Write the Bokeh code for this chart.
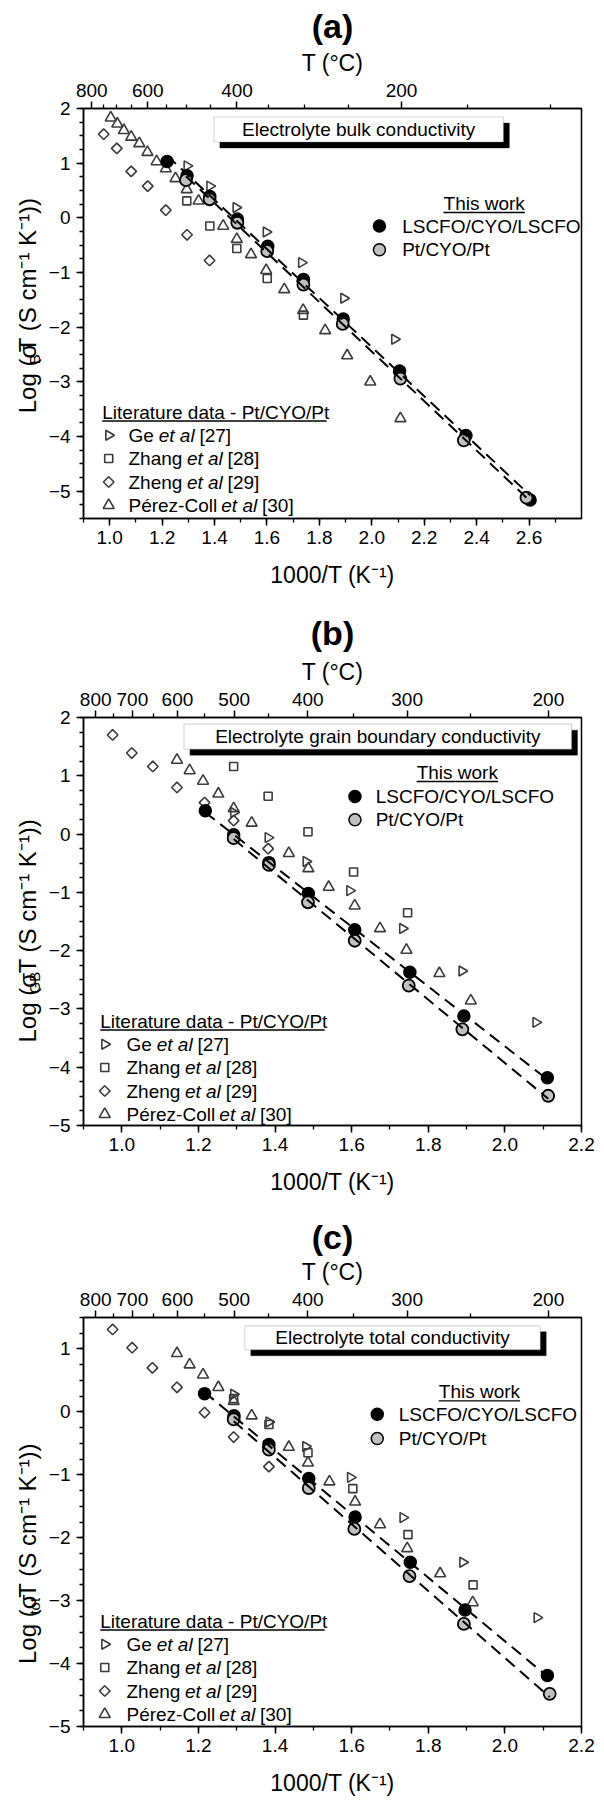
import math
import numpy as np
from bokeh.plotting import figure
from bokeh.models import (LinearAxis, FixedTicker, SingleIntervalTicker, CustomJSTickFormatter,
                          NumeralTickFormatter, Label, BoxAnnotation, Range1d)
from bokeh.layouts import column, row
from bokeh.embed import file_html
from bokeh.resources import INLINE

FONT = "Liberation Sans"

# ---------------- data ----------------
# (a) bulk conductivity
a_lscfo_x = [1.219, 1.295, 1.382, 1.487, 1.603, 1.739, 1.891, 2.106, 2.359, 2.604]
a_lscfo_y = [1.03, 0.77, 0.39, -0.02, -0.52, -1.13, -1.85, -2.80, -3.98, -5.16]
a_pt_x = [1.291, 1.381, 1.487, 1.601, 1.739, 1.889, 2.109, 2.351, 2.590]
a_pt_y = [0.69, 0.34, -0.09, -0.61, -1.22, -1.94, -2.94, -4.07, -5.12]
a_ge_x = [1.295, 1.382, 1.482, 1.597, 1.732, 1.893, 2.087]
a_ge_y = [0.95, 0.58, 0.19, -0.26, -0.82, -1.47, -2.22]
a_zhang_x = [1.294, 1.382, 1.485, 1.601, 1.739]
a_zhang_y = [0.31, -0.15, -0.56, -1.11, -1.78]
a_zheng_x = [0.977, 1.027, 1.082, 1.145, 1.214, 1.295, 1.381]
a_zheng_y = [1.53, 1.27, 0.85, 0.58, 0.14, -0.31, -0.78]
a_perez_x = [1.004, 1.029, 1.054, 1.082, 1.113, 1.144, 1.179, 1.214, 1.251, 1.294, 1.339,
             1.433, 1.485, 1.539, 1.597, 1.666, 1.738, 1.822, 1.906, 1.994, 2.109]
a_perez_y = [1.83, 1.72, 1.60, 1.48, 1.36, 1.20, 1.03, 0.90, 0.72, 0.52, 0.31,
             -0.15, -0.39, -0.67, -0.96, -1.31, -1.69, -2.06, -2.52, -3.00, -3.67]

# (b) grain boundary conductivity
b_lscfo_x = [1.218, 1.292, 1.384, 1.487, 1.608, 1.752, 1.893, 2.111]
b_lscfo_y = [0.40, -0.01, -0.49, -1.02, -1.64, -2.37, -3.12, -4.18]
b_pt_x = [1.292, 1.384, 1.486, 1.608, 1.749, 1.889, 2.113]
b_pt_y = [-0.07, -0.53, -1.17, -1.83, -2.60, -3.35, -4.49]
b_ge_x = [1.292, 1.382, 1.481, 1.595, 1.733, 1.888, 2.081]
b_ge_y = [0.37, -0.06, -0.47, -0.97, -1.62, -2.35, -3.23]
b_zhang_x = [1.292, 1.382, 1.486, 1.605, 1.746]
b_zhang_y = [1.16, 0.65, 0.04, -0.65, -1.35]
b_zheng_x = [0.976, 1.026, 1.081, 1.144, 1.216, 1.292, 1.382]
b_zheng_y = [1.70, 1.39, 1.16, 0.80, 0.54, 0.23, -0.25]
b_perez_x = [1.144, 1.177, 1.212, 1.252, 1.292, 1.339, 1.436, 1.487, 1.540, 1.608, 1.674,
             1.743, 1.829, 1.911]
b_perez_y = [1.27, 1.09, 0.91, 0.69, 0.44, 0.19, -0.33, -0.59, -0.91, -1.23, -1.62,
             -1.99, -2.39, -2.86]

# (c) total conductivity
c_lscfo_x = [1.216, 1.293, 1.384, 1.488, 1.609, 1.753, 1.896, 2.111]
c_lscfo_y = [0.29, -0.06, -0.52, -1.06, -1.67, -2.39, -3.15, -4.19]
c_pt_x = [1.292, 1.384, 1.488, 1.607, 1.751, 1.893, 2.117]
c_pt_y = [-0.12, -0.60, -1.21, -1.86, -2.61, -3.37, -4.48]
c_ge_x = [1.292, 1.384, 1.480, 1.597, 1.734, 1.890, 2.084]
c_ge_y = [0.28, -0.16, -0.55, -1.04, -1.68, -2.39, -3.27]
c_zhang_x = [1.292, 1.384, 1.486, 1.603, 1.747, 1.917]
c_zhang_y = [0.21, -0.20, -0.65, -1.22, -1.95, -2.75]
c_zheng_x = [0.976, 1.027, 1.080, 1.144, 1.216, 1.292, 1.384]
c_zheng_y = [1.31, 1.02, 0.70, 0.39, -0.01, -0.40, -0.87]
c_perez_x = [1.144, 1.177, 1.212, 1.252, 1.292, 1.339, 1.436, 1.486, 1.542, 1.609, 1.674,
             1.745, 1.831, 1.916]
c_perez_y = [0.93, 0.75, 0.59, 0.39, 0.17, -0.06, -0.56, -0.81, -1.11, -1.43, -1.79,
             -2.17, -2.57, -3.03]

# texts and ticks
panel_titles = ["(a)", "(b)", "(c)"]
box_texts = ["Electrolyte bulk conductivity",
             "Electrolyte grain boundary conductivity",
             "Electrolyte total conductivity"]
sigma_subs = ["B", "GB", "tot"]
y_label_head = "Log (σ"
y_label_tail = "T (S cm\u207b\u00b9 K\u207b\u00b9))"
this_work_title = "This work"
this_work_names = ["LSCFO/CYO/LSCFO", "Pt/CYO/Pt"]
lit_title = "Literature data - Pt/CYO/Pt"
lit_authors = ["Ge", "Zhang", "Zheng", "Pérez-Coll"]
lit_refs = ["[27]", "[28]", "[29]", "[30]"]
x_label = "1000/T (K\u207b\u00b9)"
top_label = "T (°C)"
top_major_a = [800, 600, 400, 200]
top_minor_a = [750, 700, 650, 550, 500, 450, 350, 300, 250, 150, 100]
top_major_bc = [800, 700, 600, 500, 400, 300, 200]
top_minor_bc = [750, 650, 550, 450, 350, 250]

# ---------------- helpers ----------------
AW = {' ': 278, '(': 333, ')': 333, '[': 278, ']': 278, '/': 278, '-': 333, '.': 278, '°': 400,
      'A': 667, 'B': 667, 'C': 722, 'D': 722, 'E': 667, 'F': 611, 'G': 778, 'H': 722, 'I': 278,
      'K': 667, 'L': 556, 'M': 833, 'O': 778, 'P': 667, 'S': 667, 'T': 611, 'Y': 667, 'Z': 611,
      'a': 556, 'b': 556, 'c': 500, 'd': 556, 'e': 556, 'g': 556, 'h': 556, 'i': 222, 'k': 500,
      'l': 222, 'm': 833, 'n': 556, 'o': 556, 'r': 333, 't': 278, 'u': 556, 'v': 500, 'w': 722,
      'y': 500, 'z': 500, 'é': 556, 'σ': 620}


def tw(s, size):
    return sum(AW.get(ch, 556) for ch in s) / 1000.0 * size


LW = 45            # width of the strip holding the y-axis title
FW = 504           # frame width
BL = 32            # left border of main figure (frame starts at page x 85)
BR = 15
LIT_COLOR = "#3c3c3c"


def t2x(t):
    return 1000.0 / (t + 273.15)


def style_axis(ax):
    ax.axis_line_width = 1.5
    ax.axis_line_color = "black"
    ax.major_tick_out = 7
    ax.major_tick_in = 0
    ax.minor_tick_out = 4
    ax.minor_tick_in = 0
    ax.major_tick_line_width = 1.5
    ax.minor_tick_line_width = 1.3
    ax.major_tick_line_color = "black"
    ax.minor_tick_line_color = "black"
    ax.major_label_text_font = FONT
    ax.major_label_text_font_size = "19px"
    ax.major_label_text_color = "black"
    ax.major_label_standoff = 5
    ax.axis_label_text_font = FONT
    ax.axis_label_text_font_size = "23px"
    ax.axis_label_text_font_style = "normal"
    ax.axis_label_text_color = "black"


def make_panel(k, d, cfg):
    x0, x1 = cfg["xr"]
    y0, y1 = cfg["yr"]
    fh = cfg["fh"]
    H = cfg["bt"] + fh + cfg["bb"]

    def X(px):
        return x0 + px / FW * (x1 - x0)

    def Y(py):
        return y1 - py / fh * (y1 - y0)

    p = figure(width=BL + FW + BR, height=H, x_range=Range1d(x0, x1), y_range=Range1d(y0, y1),
               output_backend="svg", toolbar_location=None,
               min_border_left=BL, min_border_right=BR,
               min_border_top=cfg["bt"], min_border_bottom=cfg["bb"],
               title=panel_titles[k])
    p.background_fill_color = "white"
    p.border_fill_color = "white"
    p.xgrid.visible = False
    p.ygrid.visible = False
    p.outline_line_color = "black"
    p.outline_line_width = 1.5
    p.outline_line_alpha = 1.0

    p.title.text_font = FONT
    p.title.text_font_size = "34px"
    p.title.text_font_style = "bold"
    p.title.align = "center"
    p.title.text_color = "black"
    try:
        p.title.standoff = cfg["tst"]
    except AttributeError:
        pass

    bottom = p.below[0]
    left = p.left[0]
    top = LinearAxis(ticker=FixedTicker(ticks=[t2x(t) for t in cfg["tmaj"]],
                                        minor_ticks=[t2x(t) for t in cfg["tmin"]]),
                     formatter=CustomJSTickFormatter(code="return String(Math.round(1000/tick - 273.15));"),
                     axis_label=top_label)
    p.add_layout(top, "above")

    bottom.ticker = SingleIntervalTicker(interval=0.2, num_minor_ticks=2)
    bottom.formatter = NumeralTickFormatter(format="0.0")
    bottom.axis_label = x_label
    left.ticker = SingleIntervalTicker(interval=1, num_minor_ticks=4)
    for ax in [bottom, left, top]:
        style_axis(ax)
    bottom.axis_label_standoff = 15
    left.major_label_standoff = 6
    top.axis_label_standoff = 5

    # literature data (open markers)
    styles = {
        "ge": dict(marker="triangle", size=10, angle=-math.pi / 2),
        "zhang": dict(marker="square", size=8, angle=0.0),
        "zheng": dict(marker="square", size=7.5, angle=math.pi / 4),
        "perez": dict(marker="triangle", size=11, angle=0.0),
    }
    for key in ["ge", "zhang", "zheng", "perez"]:
        st = styles[key]
        p.scatter(d[key][0], d[key][1], marker=st["marker"], size=st["size"], angle=st["angle"],
                  fill_color=None, line_color=LIT_COLOR, line_width=1.6)

    # this work
    p.scatter(d["lscfo"][0], d["lscfo"][1], marker="circle", size=12,
              fill_color="black", line_color="black", line_width=1.5)
    p.scatter(d["pt"][0], d["pt"][1], marker="circle", size=12,
              fill_color="#c0c0c0", line_color="black", line_width=1.8)

    # Arrhenius fits (dashed)
    for key in ["lscfo", "pt"]:
        xs = np.array(d[key][0])
        ys = np.array(d[key][1])
        m, c = np.polyfit(xs, ys, 1)
        xl = np.array([xs.min(), xs.max()])
        p.line(xl, m * xl + c, line_color="black", line_width=2, line_dash="12 7")

    # title box with shadow
    bl, br, btp, bbt = cfg["box"]
    sh = 6
    p.add_layout(BoxAnnotation(left=X(bl + sh), right=X(br + sh), top=Y(btp + sh), bottom=Y(bbt + sh),
                               fill_color="black", fill_alpha=1, line_color="black", line_width=1))
    p.add_layout(BoxAnnotation(left=X(bl), right=X(br), top=Y(btp), bottom=Y(bbt),
                               fill_color="white", fill_alpha=1, line_color="#808080", line_width=1.2))
    p.add_layout(Label(x=X((bl + br) / 2), y=Y((btp + bbt) / 2), text=box_texts[k],
                       text_align="center", text_baseline="middle", text_font=FONT,
                       text_font_size="19px", text_color="black"))

    # "This work" legend
    tl = cfg["tw"]
    p.add_layout(Label(x=X(tl["cx"]), y=Y(tl["ty"]), text=this_work_title, text_align="center",
                       text_baseline="middle", text_font=FONT, text_font_size="19px", text_color="black"))
    w = tw(this_work_title, 19)
    p.segment(x0=[X(tl["cx"] - w / 2)], y0=[Y(tl["ty"] + 9)], x1=[X(tl["cx"] + w / 2)], y1=[Y(tl["ty"] + 9)],
              line_color="black", line_width=1.3)
    fills = ["black", "#c0c0c0"]
    for i, name in enumerate(this_work_names):
        yy = tl["rows"][i]
        p.scatter([X(tl["mx"])], [Y(yy)], marker="circle", size=12, fill_color=fills[i],
                  line_color="black", line_width=1.5)
        p.add_layout(Label(x=X(tl["tx"]), y=Y(yy), text=name, text_align="left",
                           text_baseline="middle", text_font=FONT, text_font_size="19px",
                           text_color="black"))

    # literature legend
    ll = cfg["lit"]
    p.add_layout(Label(x=X(ll["x0"]), y=Y(ll["ty"]), text=lit_title, text_align="left",
                       text_baseline="middle", text_font=FONT, text_font_size="19px", text_color="black"))
    w = tw(lit_title, 19)
    p.segment(x0=[X(ll["x0"])], y0=[Y(ll["ty"] + 9)], x1=[X(ll["x0"] + w)], y1=[Y(ll["ty"] + 9)],
              line_color="black", line_width=1.3)
    for i, key in enumerate(["ge", "zhang", "zheng", "perez"]):
        st = styles[key]
        yy = ll["rows"][i]
        p.scatter([X(ll["mx"])], [Y(yy)], marker=st["marker"], size=st["size"], angle=st["angle"],
                  fill_color=None, line_color=LIT_COLOR, line_width=1.6)
        pos = ll["tx"]
        for txt, style in [(lit_authors[i] + " ", "normal"), ("et al", "italic"), (" " + lit_refs[i], "normal")]:
            lead = len(txt) - len(txt.lstrip(" "))
            pos += tw(" " * lead, 19)
            core = txt.strip(" ")
            p.add_layout(Label(x=X(pos), y=Y(yy), text=core, text_align="left", text_baseline="middle",
                               text_font=FONT, text_font_size="19px", text_font_style=style,
                               text_color="black"))
            pos += tw(txt.lstrip(" "), 19)

    # y axis title, in its own strip (pixel coordinates): head, subscript, tail
    q = figure(width=LW, height=H, x_range=Range1d(0, LW), y_range=Range1d(0, H),
               output_backend="svg", toolbar_location=None, min_border=0,
               x_axis_location=None, y_axis_location=None)
    q.outline_line_color = None
    q.background_fill_color = "white"
    q.border_fill_color = "white"
    q.xgrid.visible = False
    q.ygrid.visible = False
    base_x = LW + BL - cfg["yll"]
    along = cfg["bb"] + cfg["ylb"]
    pieces = [(y_label_head, 24, 0), (sigma_subs[k], 15, 7), (y_label_tail, 24, 0)]
    gaps = [2.5, 8.0, 0.0]
    for idx, (txt, size, shift) in enumerate(pieces):
        q.add_layout(Label(x=base_x + shift, y=along, text=txt, angle=math.pi / 2, text_align="left",
                           text_baseline="alphabetic", text_font=FONT, text_font_size="%dpx" % size,
                           text_color="black"))
        along += tw(txt, size) + gaps[idx]
    return row(q, p, spacing=0)


cfgs = [
    dict(xr=(0.9, 2.8), yr=(-5.5, 2.0), fh=410, bt=108, bb=86, tst=3,
         tmaj=top_major_a, tmin=top_minor_a, box=(132, 425, 8.5, 33.5),
         tw=dict(cx=405.5, ty=95, mx=299.5, tx=322.5, rows=[117.5, 141.2]),
         lit=dict(x0=19, mx=25.5, tx=45.5, ty=303.5, rows=[326.8, 350, 373.5, 396.8]),
         yll=50, ylb=69),
    dict(xr=(0.9, 2.2), yr=(-5.0, 2.0), fh=408, bt=113, bb=79, tst=8,
         tmaj=top_major_bc, tmin=top_minor_bc, box=(101.7, 494, 6.7, 31.7),
         tw=dict(cx=378.3, ty=55, mx=274.7, tx=295.7, rows=[79, 102.3]),
         lit=dict(x0=17, mx=21.5, tx=43.5, ty=303.5, rows=[326.8, 350, 373.5, 396.8]),
         yll=50, ylb=43),
    dict(xr=(0.9, 2.2), yr=(-5.0, 1.5), fh=409, bt=113, bb=74, tst=0,
         tmaj=top_major_bc, tmin=top_minor_bc, box=(163.3, 462.3, 8.3, 32.3),
         tw=dict(cx=400.7, ty=74.3, mx=297.3, tx=319, rows=[96.7, 121]),
         lit=dict(x0=17, mx=21.5, tx=43.5, ty=303.5, rows=[326.8, 350, 373.5, 396.8]),
         yll=50, ylb=17),
]

datas = [
    dict(lscfo=(a_lscfo_x, a_lscfo_y), pt=(a_pt_x, a_pt_y), ge=(a_ge_x, a_ge_y),
         zhang=(a_zhang_x, a_zhang_y), zheng=(a_zheng_x, a_zheng_y), perez=(a_perez_x, a_perez_y)),
    dict(lscfo=(b_lscfo_x, b_lscfo_y), pt=(b_pt_x, b_pt_y), ge=(b_ge_x, b_ge_y),
         zhang=(b_zhang_x, b_zhang_y), zheng=(b_zheng_x, b_zheng_y), perez=(b_perez_x, b_perez_y)),
    dict(lscfo=(c_lscfo_x, c_lscfo_y), pt=(c_pt_x, c_pt_y), ge=(c_ge_x, c_ge_y),
         zhang=(c_zhang_x, c_zhang_y), zheng=(c_zheng_x, c_zheng_y), perez=(c_perez_x, c_perez_y)),
]

panels = [make_panel(k, datas[k], cfgs[k]) for k in range(3)]
layout = column(*panels, spacing=0)

with open("out.html", "w") as f:
    f.write(file_html(layout, INLINE))
